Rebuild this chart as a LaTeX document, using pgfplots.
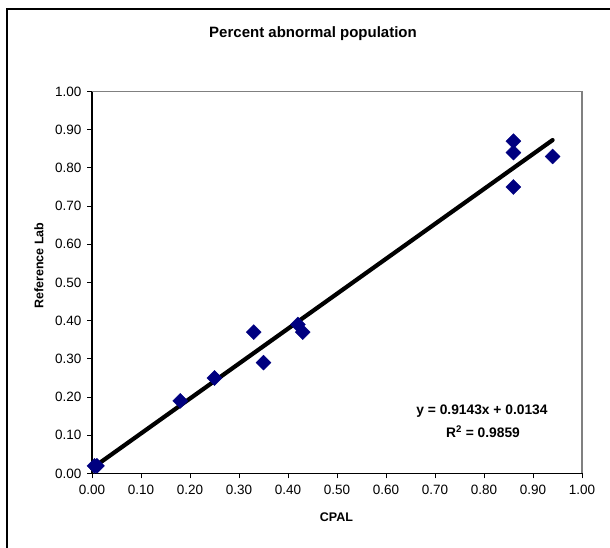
\documentclass[border=0pt]{standalone}
\usepackage{pgfplots}
\pgfplotsset{compat=1.18}
\usepackage{fontspec}
\setmainfont{Liberation Sans}
\definecolor{navy}{RGB}{0,0,128}
\begin{document}
\begin{tikzpicture}
\useasboundingbox (0pt,0pt) rectangle (610pt,548pt);
\draw[line width=1.3pt] (7pt,-2pt) -- (7pt,539pt) -- (612pt,539pt);
\node[font=\bfseries\fontsize{15}{17}\selectfont] at (313pt,514pt) {Percent abnormal population};
\node[font=\bfseries\fontsize{12.5}{14}\selectfont, rotate=90] at (39pt,282.5pt) {Reference Lab};
\node[font=\bfseries\fontsize{12.5}{14}\selectfont] at (336.5pt,31pt) {CPAL};
\begin{axis}[
  at={(92pt,74.5pt)}, anchor=south west,
  scale only axis, width=490pt, height=382pt,
  xmin=0, xmax=1, ymin=0, ymax=1,
  axis x line*=bottom, axis y line*=left,
  axis line style={line width=1.8pt, -},
  xtick={0,0.1,...,1.01}, ytick={0,0.1,...,1.01},
  tick align=outside, major tick length=5pt,
  every tick/.style={black, line width=0.9pt},
  tick label style={font=\fontsize{13.5}{15}\selectfont},
  /pgf/number format/.cd, fixed, fixed zerofill, precision=2, assume math mode=true,
  /pgfplots/.cd,
  xticklabel style={yshift=-3pt},
  yticklabel style={xshift=-2pt},
  clip=false,
]
\draw[gray, line width=1.3pt] (rel axis cs:0,1) -- (rel axis cs:1,1) -- (rel axis cs:1,0);
\addplot[only marks, mark=square*, mark size=5.3pt, mark options={rotate=45, fill=navy, draw=navy}] coordinates {
(0.005,0.02) (0.01,0.02) (0.18,0.19) (0.25,0.25) (0.33,0.37) (0.35,0.29)
(0.42,0.39) (0.43,0.37) (0.86,0.87) (0.86,0.84) (0.86,0.75) (0.94,0.83)
};
\addplot[black, line width=4.2pt, line cap=round] coordinates {(0,0.0134) (0.94,0.872842)};
\end{axis}
\node[font=\bfseries\fontsize{13.8}{15}\selectfont] at (482pt,137pt) {y = 0.9143x + 0.0134};
\node[font=\bfseries\fontsize{13.8}{15}\selectfont] at (483pt,116pt) {R\textsuperscript{2} = 0.9859};
\end{tikzpicture}
\end{document}
